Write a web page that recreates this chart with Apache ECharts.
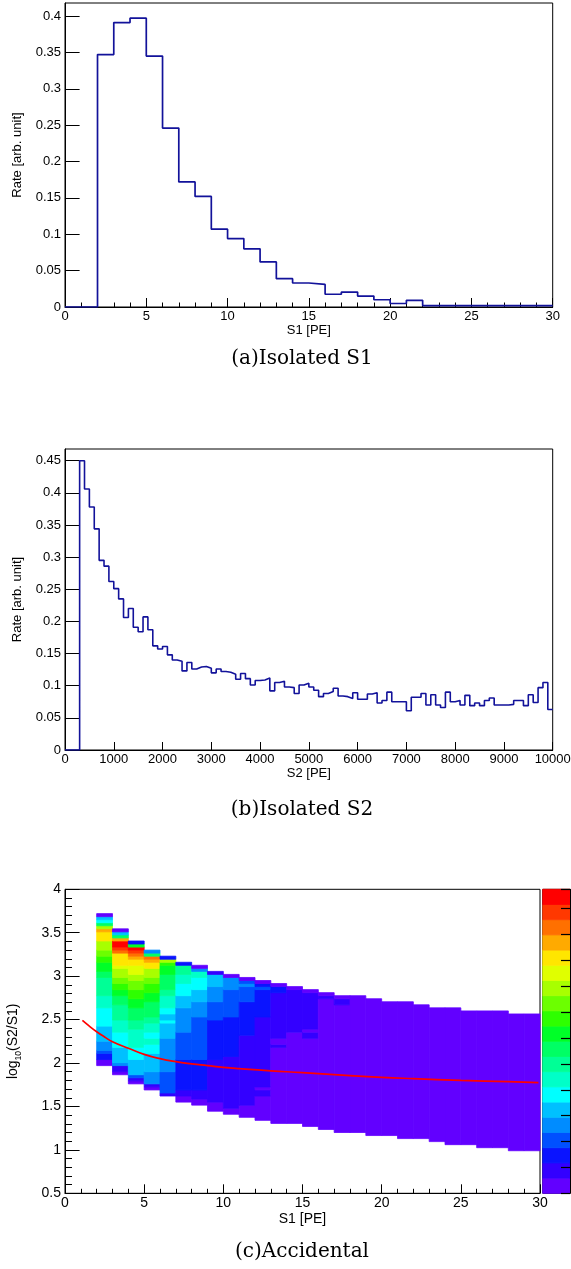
<!DOCTYPE html>
<html><head><meta charset="utf-8">
<script src="https://cdn.jsdelivr.net/npm/echarts@6/dist/echarts.min.js"></script>
<style>html,body{margin:0;padding:0;background:#fff}#c{width:571px;height:1269px}</style>
</head><body><div id="c"></div>
<script>
// (a) Isolated S1: 30 bins of 1 PE from 0 to 30
const s1Start = 0, s1Width = 1;
const s1Rates = [0, 0, 0.347, 0.391, 0.397, 0.345, 0.246, 0.172, 0.152, 0.107,
  0.094, 0.080, 0.062, 0.039, 0.033, 0.031, 0.0175, 0.0205, 0.015, 0.010,
  0.0048, 0.0092, 0.002, 0.002, 0.002, 0.002, 0.002, 0.002, 0.002, 0.002];
// (b) Isolated S2: 100 bins of 100 PE from 0 to 10000
const s2Start = 0, s2Width = 100;
const s2Rates = [0, 0, 0, 0.450, 0.406, 0.378, 0.344, 0.295, 0.286, 0.262,
  0.251, 0.235, 0.206, 0.220, 0.191, 0.184, 0.207, 0.187, 0.162, 0.157,
  0.161, 0.148, 0.140, 0.138, 0.123, 0.136, 0.126, 0.129, 0.130, 0.127,
  0.120, 0.126, 0.122, 0.121, 0.118, 0.110, 0.119, 0.111, 0.101, 0.108,
  0.109, 0.112, 0.092, 0.105, 0.107, 0.098, 0.097, 0.088, 0.101, 0.104,
  0.098, 0.093, 0.083, 0.088, 0.091, 0.096, 0.084, 0.083, 0.080, 0.089,
  0.079, 0.079, 0.087, 0.089, 0.073, 0.077, 0.090, 0.075, 0.075, 0.075,
  0.061, 0.082, 0.082, 0.088, 0.070, 0.086, 0.070, 0.066, 0.090, 0.075,
  0.077, 0.070, 0.085, 0.069, 0.073, 0.069, 0.077, 0.081, 0.070, 0.070,
  0.070, 0.071, 0.077, 0.077, 0.069, 0.086, 0.074, 0.097, 0.105, 0.063];
// (c) Accidental: 2D histogram, x bins of 1 PE, y bins of 0.035 from 0.5
const accYMin = 0.5, accDy = 0.035;
const accCols = [2,3,4,5,6,7,8,9,10,11,12,13,14,15,16,17,18,19,20,21,22,23,24,25,26,27,28,29];
const accBottomBin = [42,39,36,34,32,30,29,27,26,25,24,23,23,22,21,20,20,19,19,18,18,17,16,16,15,15,14,14];
// per column, bottom to top: [colour level, number of y bins]
const accRuns = [
  [[0,2],[2,2],[3,1],[4,3],[5,5],[6,6],[7,4],[8,6],[9,2],[10,3],[11,2],[12,2],[13,3],[15,3],[16,1],[13,1],[9,1],[6,1],[5,1],[0,1]],
  [[0,1],[1,2],[4,1],[5,5],[6,5],[7,4],[8,5],[9,3],[10,2],[11,2],[12,2],[13,3],[14,1],[15,4],[17,1],[18,1],[19,2],[16,1],[9,1],[5,1],[0,1]],
  [[0,1],[1,1],[3,1],[5,5],[6,4],[7,6],[8,3],[9,4],[10,3],[11,3],[12,3],[13,2],[14,3],[15,2],[16,1],[17,1],[18,1],[19,1],[10,1],[2,1]],
  [[0,1],[1,1],[4,4],[5,6],[6,3],[7,2],[6,2],[7,3],[8,2],[9,5],[10,3],[11,3],[12,2],[13,3],[15,2],[16,1],[17,1],[9,1],[4,1]],
  [[1,1],[3,7],[4,11],[5,5],[6,1],[5,2],[6,2],[7,4],[8,2],[9,5],[10,3],[11,1],[13,1],[2,1]],
  [[0,2],[1,2],[2,10],[3,9],[4,8],[5,4],[6,4],[7,3],[8,3],[2,1]],
  [[0,2],[1,3],[2,10],[3,14],[4,5],[5,4],[6,4],[7,2],[4,1],[0,1]],
  [[0,3],[1,14],[2,13],[3,6],[4,5],[5,4],[1,1]],
  [[0,2],[1,17],[2,13],[3,9],[4,4],[0,1]],
  [[0,4],[1,23],[2,11],[3,5],[4,1],[3,1],[0,1]],
  [[0,8],[1,2],[0,1],[1,23],[2,9],[3,1],[2,1],[0,1]],
  [[0,25],[1,1],[0,2],[1,15],[2,2],[0,1]],
  [[0,30],[1,14],[0,1]],
  [[0,29],[1,2],[0,1],[1,12],[0,1]],
  [[0,43],[1,1],[0,1]],
  [[0,42],[1,2],[0,1]],
  [[0,45]],[[0,45]],[[0,44]],[[0,45]],[[0,44]],[[0,44]],[[0,45]],[[0,44]],[[0,45]],[[0,45]],[[0,45]],[[0,45]]
];
const accPalette = ['#6200ff','#3300ff','#0a14ff','#0050ff','#008cff','#00c0ff','#00ffff','#00ffc8','#00ff96','#00ff64',
  '#00ff28','#2eff00','#6cff00','#a8ff00','#e0ff00','#ffe600','#ffaa00','#ff7000','#ff3800','#ff0000'];
// colour-bar (z) axis range; the 20 colour levels share it evenly
const zMin = 0, zMax = 11.75, zTickStep = 1;
const curveX = [1.1, 1.5, 2, 2.5, 3, 4, 5, 6, 7, 8, 9, 10, 11, 13, 15, 18, 20, 22, 25, 28, 29.9];
const curveY = [2.49, 2.43, 2.36, 2.30, 2.245, 2.17, 2.10, 2.05, 2.015, 1.99, 1.97, 1.95, 1.935, 1.91, 1.89, 1.855, 1.835, 1.82, 1.80, 1.785, 1.775];

function stepData(vals, x0, w) {
  const d = vals.map((v, i) => [x0 + i * w, v]);
  d.push([x0 + vals.length * w, vals[vals.length - 1]]);
  return d;
}
// one rectangle per run of equal-level y bins: [x, first bin, number of bins, level]
const cells = [];
accCols.forEach((x, ci) => {
  let k = accBottomBin[ci];
  accRuns[ci].forEach(([lv, n]) => { cells.push([x, k, n, lv]); k += n; });
});
const zStep = (zMax - zMin) / accPalette.length;
const levels = accPalette.map((c, i) => [zMin + i * zStep, zMin + (i + 1) * zStep, i]);

const F = 'Liberation Sans, Arial, sans-serif';
const black = {color: '#000', width: 1};
const plain = v => String(v);
function xAx(grid, min, max, interval, minor, name, gap, fs, tl) {
  return {gridIndex: grid, type: 'value', min, max, interval,
    axisLine: {lineStyle: black}, splitLine: {show: false},
    axisTick: {inside: true, length: tl, lineStyle: black},
    minorTick: {show: minor > 0, splitNumber: minor || 5, length: tl / 2, lineStyle: black},
    axisLabel: {color: '#000', fontFamily: F, fontSize: fs, margin: 3, formatter: plain},
    name, nameLocation: 'middle', nameGap: gap,
    nameTextStyle: {color: '#000', fontFamily: F, fontSize: fs}};
}
function yAx(grid, min, max, interval, minor, name, gap, fs) {
  return {gridIndex: grid, type: 'value', min, max, interval,
    axisLine: {lineStyle: black}, splitLine: {show: false},
    axisTick: {inside: true, length: 14.6, lineStyle: black},
    minorTick: {show: minor > 0, splitNumber: minor || 5, length: 7, lineStyle: black},
    axisLabel: {color: '#000', fontFamily: F, fontSize: fs, margin: 4, showMaxLabel: false},
    name, nameLocation: 'middle', nameGap: gap, nameRotate: 90,
    nameTextStyle: {color: '#000', fontFamily: F, fontSize: fs}};
}
const gridBase = {show: true, borderColor: '#000', borderWidth: 1, containLabel: false, outerBoundsMode: 'none'};

const yC = yAx(2, 0.5, 4, 0.5, 5, 'log{s|10}(S2/S1)', 42, 14);
yC.axisLabel.showMaxLabel = true;
yC.nameTextStyle.lineHeight = 19;
yC.nameTextStyle.rich = {s: {fontSize: 8.5, fontFamily: F, color: '#000', verticalAlign: 'bottom', lineHeight: 8}};

function cellRect(p0, p1, color) {
  const x = Math.min(p0[0], p1[0]), y = Math.min(p0[1], p1[1]);
  return {type: 'rect',
    shape: {x, y, width: Math.abs(p1[0] - p0[0]), height: Math.abs(p0[1] - p1[1])},
    style: {fill: color, stroke: color, lineWidth: 0.8}};
}

const option = {
  animation: false,
  backgroundColor: '#fff',
  grid: [
    Object.assign({left: 65, top: 3, width: 487.7, height: 304}, gridBase),
    Object.assign({left: 65, top: 449, width: 487.7, height: 301}, gridBase),
    Object.assign({left: 65, top: 889.3, width: 475, height: 304}, gridBase),
    Object.assign({left: 542.7, top: 889.3, width: 27.3, height: 304}, gridBase)
  ],
  xAxis: [
    xAx(0, 0, 30, 5, 5, 'S1 [PE]', 11, 13, 9),
    xAx(1, 0, 10000, 1000, 0, 'S2 [PE]', 17, 13, 8),
    xAx(2, 0, 30, 5, 5, 'S1 [PE]', 19, 14, 9),
    // inverted so that its zero (where the colour-bar axis sits) is the bar's right edge
    {gridIndex: 3, type: 'value', min: 0, max: 1, inverse: true, show: false}
  ],
  yAxis: [
    yAx(0, 0, 0.4179, 0.05, 0, 'Rate [arb. unit]', 41, 13),
    yAx(1, 0, 0.4682, 0.05, 0, 'Rate [arb. unit]', 41, 13),
    yC,
    {gridIndex: 3, type: 'value', min: zMin, max: zMax, interval: zTickStep, position: 'left', z: 10,
      axisLine: {show: true, onZero: true, lineStyle: black}, splitLine: {show: false},
      axisTick: {show: true, inside: false, length: 9, lineStyle: {color: '#000', width: 1.2}},
      axisLabel: {show: false}}
  ],
  series: [
    {type: 'line', xAxisIndex: 0, yAxisIndex: 0, step: 'end', symbol: 'none',
      data: stepData(s1Rates, s1Start, s1Width), lineStyle: {color: '#12129a', width: 1.7}},
    {type: 'line', xAxisIndex: 1, yAxisIndex: 1, step: 'end', symbol: 'none',
      data: stepData(s2Rates, s2Start, s2Width), lineStyle: {color: '#12129a', width: 1.6}},
    {type: 'custom', xAxisIndex: 2, yAxisIndex: 2, data: cells, encode: {x: 0, y: 1},
      renderItem: function (params, api) {
        const x = api.value(0), k = api.value(1), n = api.value(2), lv = api.value(3);
        const p0 = api.coord([x, accYMin + k * accDy]);
        const p1 = api.coord([x + 1, accYMin + (k + n) * accDy]);
        return cellRect(p0, p1, accPalette[lv]);
      }},
    {type: 'line', xAxisIndex: 2, yAxisIndex: 2, symbol: 'none', smooth: true, z: 5,
      data: curveX.map((x, i) => [x, curveY[i]]), lineStyle: {color: '#ff0000', width: 1.7}},
    {type: 'custom', xAxisIndex: 3, yAxisIndex: 3, data: levels, encode: {y: [0, 1]}, z: 1,
      renderItem: function (params, api) {
        const lo = api.value(0), hi = api.value(1), lv = api.value(2);
        return cellRect(api.coord([0, lo]), api.coord([1, hi]), accPalette[lv]);
      }}
  ],
  graphic: [
    {type: 'text', x: 302, y: 359, style: {text: '(a)Isolated S1', font: '20px "DejaVu Serif", serif', fill: '#000', align: 'center', verticalAlign: 'middle'}},
    {type: 'text', x: 302, y: 810, style: {text: '(b)Isolated S2', font: '20px "DejaVu Serif", serif', fill: '#000', align: 'center', verticalAlign: 'middle'}},
    {type: 'text', x: 302, y: 1252, style: {text: '(c)Accidental', font: '20px "DejaVu Serif", serif', fill: '#000', align: 'center', verticalAlign: 'middle'}}
  ]
};
const chart = echarts.init(document.getElementById('c'), null, {renderer: 'canvas'});
chart.setOption(option);
</script></body></html>
